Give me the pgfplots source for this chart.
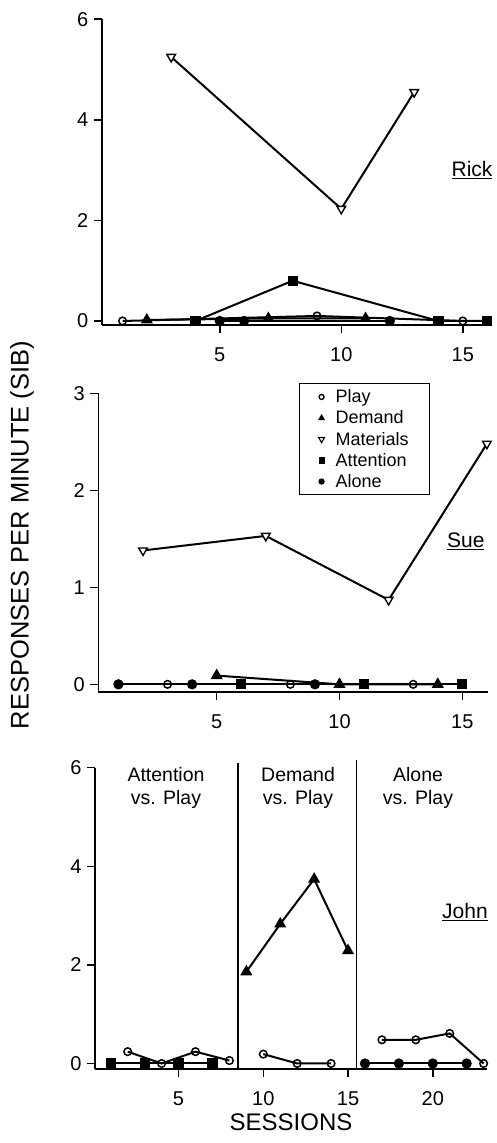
\documentclass[border=0pt]{standalone}
\usepackage{fontspec}
\setmainfont{Liberation Sans}
\usepackage{pgfplots}
\pgfplotsset{compat=1.18}
\pgfplotsset{
  panel/.style={scale only axis, axis lines=left,
    axis line style={line width=1.6pt,-},
    every tick/.style={line width=1.5pt, black},
    tick align=outside, major tick length=8pt, clip=false,
    ticklabel style={font=\fontsize{20}{20}\selectfont},
    every x tick label/.append style={yshift=-11pt},
    every y tick label/.append style={xshift=-2pt},
    /pgf/number format/assume math mode=true,
    anchor=south west},
  play/.style={black, line width=2pt, mark=o, mark size=3.8pt, mark options={fill=white, line width=1.5pt}},
  demand/.style={black, line width=2pt, mark=triangle*, mark size=5pt, mark options={fill=black}},
  materials/.style={black, line width=2pt, mark=triangle*, mark size=5pt, mark options={rotate=180, fill=white, line width=1.4pt}},
  attention/.style={black, line width=2pt, mark=square*, mark size=4.1pt, mark options={fill=black}},
  alone/.style={black, line width=2pt, mark=*, mark size=4.1pt, mark options={fill=black}},
}
\begin{document}
\begin{tikzpicture}
\useasboundingbox (0pt,0pt) rectangle (496pt,-1143pt);
% ---------------- Rick ----------------
\begin{axis}[panel, at={(101.9pt,-325pt)}, width=387.6pt, height=305.8pt,
  xmin=0.15, xmax=16.1, ymin=-0.08, ymax=6,
  xtick={5,10,15}, ytick={0,2,4,6}]
\addplot[play] coordinates {(1,0) (9,0.1) (15,0)};
\addplot[demand] coordinates {(2,0.02) (7,0.05) (11,0.05)};
\addplot[alone] coordinates {(5,0) (6,0) (12,0)};
\addplot[attention] coordinates {(4,0) (8,0.8) (14,0) (16,0)};
\addplot[materials] coordinates {(3,5.25) (10,2.23) (13,4.55)};
\node[font=\fontsize{21}{21}\selectfont] at (axis cs:15.38,3.0) {\underline{Rick}};
\end{axis}
% ---------------- Sue ----------------
\begin{axis}[panel, at={(98.3pt,-691.7pt)}, width=389.8pt, height=298.4pt,
  xmin=0.18, xmax=16.05, ymin=-0.076, ymax=3,
  xtick={5,10,15}, ytick={0,1,2,3},
  legend style={at={(axis cs:8.35,3.106)}, anchor=north west, draw=black,
    line width=1.3pt, font=\fontsize{18}{18}\selectfont,
    row sep=2.6pt, column sep=9pt, inner xsep=19pt, inner ysep=4pt, cells={anchor=west}},
  legend cell align=left]
\addlegendimage{only marks, mark=o, mark size=2.5pt, mark options={line width=1.3pt}}
\addlegendentry{Play}
\addlegendimage{only marks, mark=triangle*, mark size=3.4pt, mark options={fill=black, line width=0.6pt}}
\addlegendentry{Demand}
\addlegendimage{only marks, mark=triangle*, mark size=3.4pt, mark options={rotate=180, fill=white, line width=1.1pt}}
\addlegendentry{Materials}
\addlegendimage{only marks, mark=square*, mark size=2.7pt, mark options={fill=black, line width=0.6pt}}
\addlegendentry{Attention}
\addlegendimage{only marks, mark=*, mark size=2.8pt, mark options={fill=black, line width=0.6pt}}
\addlegendentry{Alone}
\addplot[alone, forget plot] coordinates {(1,0) (4,0) (9,0)};
\addplot[play, forget plot] coordinates {(3,0) (8,0) (13,0)};
\addplot[attention, forget plot] coordinates {(6,0) (11,0) (15,0)};
\addplot[demand, forget plot] coordinates {(5,0.09) (10,0) (14,0)};
\addplot[materials, forget plot] coordinates {(2,1.38) (7,1.53) (12,0.87) (16,2.48)};
\node[font=\fontsize{21}{21}\selectfont] at (axis cs:15.14,1.47) {\underline{Sue}};
\end{axis}
% ---------------- John ----------------
\begin{axis}[panel, at={(95.0pt,-1068.9pt)}, width=392pt, height=301.2pt,
  xmin=0.07, xmax=23.2, ymin=-0.11, ymax=6,
  xtick={5,10,15,20}, ytick={0,2,4,6}]
\addplot[black, line width=1.5pt, no marks] coordinates {(8.5,-0.11) (8.5,6.1)};
\addplot[black, line width=1.5pt, no marks] coordinates {(15.5,-0.11) (15.5,6.15)};
\addplot[attention] coordinates {(1,0) (3,0) (5,0) (7,0)};
\addplot[play] coordinates {(2,0.24) (4,0) (6,0.24) (8,0.06)};
\addplot[demand] coordinates {(9,1.86) (11,2.83) (13,3.74) (15,2.29)};
\addplot[play] coordinates {(10,0.19) (12,0) (14,0)};
\addplot[alone] coordinates {(16,0) (18,0) (20,0) (22,0)};
\addplot[play] coordinates {(17,0.48) (19,0.48) (21,0.61) (23,0)};
\node[font=\fontsize{19.5}{23}\selectfont, align=center] at (axis cs:4.26,5.59) {Attention\\vs. Play};
\node[font=\fontsize{19.5}{23}\selectfont, align=center] at (axis cs:12.05,5.59) {Demand\\vs. Play};
\node[font=\fontsize{19.5}{23}\selectfont, align=center] at (axis cs:19.13,5.59) {Alone\\vs. Play};
\node[font=\fontsize{21}{21}\selectfont] at (axis cs:21.9,3.08) {\underline{John}};
\end{axis}
\node[rotate=90, font=\fontsize{25.5}{25.5}\selectfont] at (22pt,-535pt) {RESPONSES PER MINUTE (SIB)};
\node[font=\fontsize{24}{24}\selectfont] at (291pt,-1122pt) {SESSIONS};
\end{tikzpicture}
\end{document}
